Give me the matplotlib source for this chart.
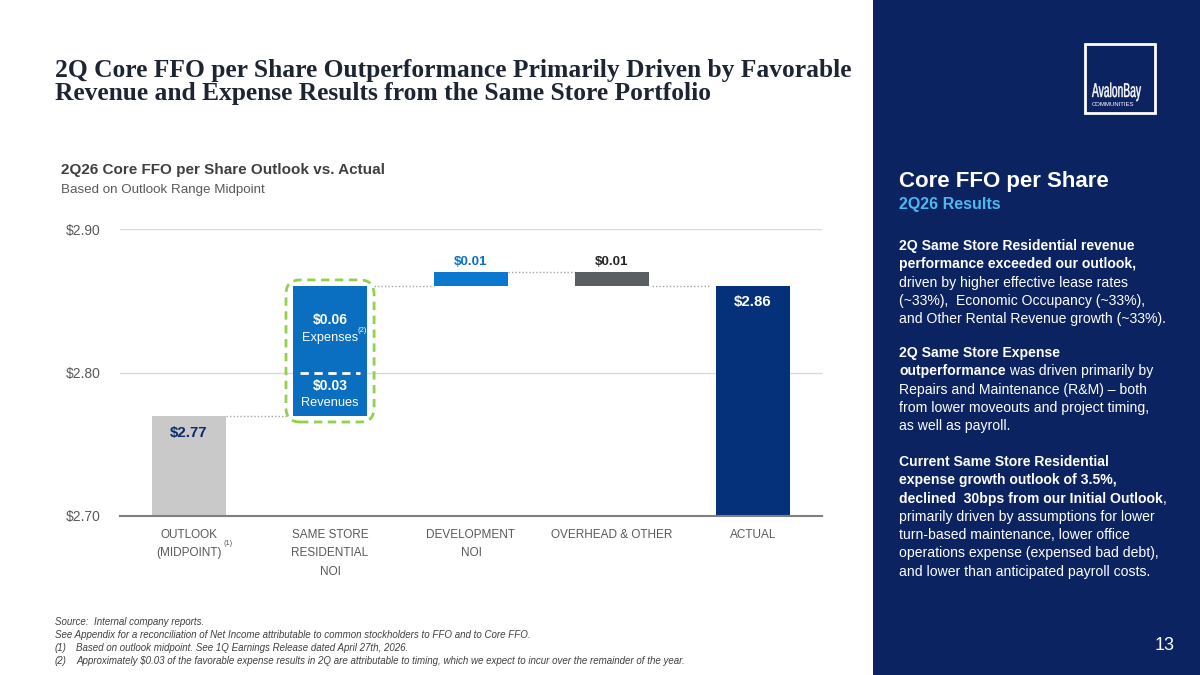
import matplotlib.pyplot as plt
import matplotlib.transforms as mtransforms
from matplotlib.patches import Rectangle, FancyBboxPatch, PathPatch
from matplotlib.textpath import TextPath
from matplotlib.font_manager import FontProperties

plt.rcParams['font.family'] = ['Liberation Sans', 'DejaVu Sans']
plt.rcParams['text.parse_math'] = False

W, H = 1200, 675

# chart data
categories = ["OUTLOOK\n(MIDPOINT)", "SAME STORE\nRESIDENTIAL\nNOI", "DEVELOPMENT\nNOI",
              "OVERHEAD & OTHER", "ACTUAL"]
outlook_value = 2.77
revenue_step = 0.03
expense_step = 0.06
development_step = 0.01
overhead_step = -0.01
actual_value = 2.86
y_ticks = [2.70, 2.80, 2.90]
y_tick_labels = ["$2.70", "$2.80", "$2.90"]

# text
title_lines = ["2Q Core FFO per Share Outperformance Primarily Driven by Favorable",
               "Revenue and Expense Results from the Same Store Portfolio"]
chart_title = "2Q26 Core FFO per Share Outlook vs. Actual"
chart_subtitle = "Based on Outlook Range Midpoint"
footnotes = ["Source:  Internal company reports.",
             "See Appendix for a reconciliation of Net Income attributable to common stockholders to FFO and to Core FFO."]
numbered_notes = [("(1)", "Based on outlook midpoint. See 1Q Earnings Release dated April 27th, 2026."),
                  ("(2)", "Approximately $0.03 of the favorable expense results in 2Q are attributable to timing, which we expect to incur over the remainder of the year.")]
panel_paragraphs = [
    [[("2Q Same Store Residential revenue", "bold")],
     [("performance exceeded our outlook,", "bold")],
     [("driven by higher effective lease rates", "normal")],
     [("(~33%),  Economic Occupancy (~33%),", "normal")],
     [("and Other Rental Revenue growth (~33%).", "normal")]],
    [[("2Q Same Store Expense", "bold")],
     [("outperformance", "bold"), (" was driven primarily by", "normal")],
     [("Repairs and Maintenance (R&M) \u2013 both", "normal")],
     [("from lower moveouts and project timing,", "normal")],
     [("as well as payroll.", "normal")]],
    [[("Current Same Store Residential", "bold")],
     [("expense growth outlook of 3.5%,", "bold")],
     [("declined  30bps from our Initial Outlook", "bold"), (",", "normal")],
     [("primarily driven by assumptions for lower", "normal")],
     [("turn-based maintenance, lower office", "normal")],
     [("operations expense (expensed bad debt),", "normal")],
     [("and lower than anticipated payroll costs.", "normal")]],
]

NAVY = '#0B2361'
GRAY_TXT = '#595959'

fig = plt.figure(figsize=(W / 100, H / 100), dpi=100)
fig.patch.set_facecolor('white')


def fx(x):
    return x / W


def fy(y):
    return 1 - y / H


# right panel
fig.patches.append(Rectangle((fx(873), 0), 1 - fx(873), 1, transform=fig.transFigure,
                             facecolor=NAVY, edgecolor='none', zorder=0))
fig.patches.append(Rectangle((fx(1085), fy(113)), fx(70), 69 / H, transform=fig.transFigure,
                             facecolor='none', edgecolor='white', lw=2, zorder=1))

# condensed logo word
logo = TextPath((0, 0), "AvalonBay", size=20, prop=FontProperties(family='Liberation Sans'))
ext = logo.get_extents()
sx = 49 / ext.width
logo_tr = mtransforms.Affine2D().translate(-ext.x0, 0).scale(sx, 1).translate(1092, H - 97)
fig.add_artist(PathPatch(logo, transform=logo_tr, facecolor='white', edgecolor='white',
                         lw=0.3, zorder=2))
fig.text(fx(1092), fy(104), "COMMUNITIES", color='white', fontsize=4.3, ha='left', va='center')

fig.text(fx(899), fy(181), "Core FFO per Share", color='white', fontsize=16, weight='bold',
         ha='left', va='center')
fig.text(fx(899), fy(205), "2Q26 Results", color='#4DB8F0', fontsize=11.5, weight='bold',
         ha='left', va='center')
fig.text(fx(1175), fy(645), "13", color='white', fontsize=13, ha='right', va='center')

renderer = fig.canvas.get_renderer()
para_starts = [245, 352, 461]
line_step = 18.3
for start, para in zip(para_starts, panel_paragraphs):
    for i, segments in enumerate(para):
        x = 899
        yb = start + i * line_step + 5
        for txt, weight in segments:
            t = fig.text(fx(x), fy(yb), txt, color='white', fontsize=10.1, weight=weight,
                         ha='left', va='baseline')
            x += t.get_window_extent(renderer).width

# slide title
for i, line in enumerate(title_lines):
    fig.text(fx(55), fy(77 + i * 23), line, color='#1D2533', fontsize=18.4, weight='bold',
             family=['Liberation Serif'], ha='left', va='baseline')

fig.text(fx(61), fy(174), chart_title, color='#404040', fontsize=11, weight='bold',
         ha='left', va='baseline')
fig.text(fx(61), fy(193), chart_subtitle, color=GRAY_TXT, fontsize=9.6, ha='left', va='baseline')

# footnotes
for i, note in enumerate(footnotes):
    fig.text(fx(55), fy(622 + i * 13), note, color='#404040', fontsize=7, style='italic',
             ha='left', va='center')
for i, (num, note) in enumerate(numbered_notes):
    fig.text(fx(55), fy(648 + i * 13), num, color='#404040', fontsize=7, style='italic',
             ha='left', va='center')
    fig.text(fx(76), fy(648 + i * 13), note, color='#404040', fontsize=7, style='italic',
             ha='left', va='center')

# waterfall chart
ax = fig.add_axes([fx(120), fy(516), (822 - 120) / W, (516 - 229) / H])
ax.set_xlim(-0.49, 4.49)
ax.set_ylim(y_ticks[0], y_ticks[-1])
for s in ['top', 'right', 'left']:
    ax.spines[s].set_visible(False)
ax.spines['bottom'].set_color('#7F7F7F')
ax.spines['bottom'].set_linewidth(1.5)
for yt in y_ticks[1:]:
    ax.axhline(yt, color='#D9D9D9', lw=1, zorder=0)

bw = 0.525
ss_mid = outlook_value + revenue_step
ss_top = ss_mid + expense_step
dev_top = ss_top + development_step
oh_bottom = dev_top + overhead_step

ax.bar(0, outlook_value - y_ticks[0], bottom=y_ticks[0], width=bw, color='#C9C9C9', zorder=2)
ax.bar(1, revenue_step, bottom=outlook_value, width=bw, color='#0B6FC1', zorder=2)
ax.bar(1, expense_step, bottom=ss_mid, width=bw, color='#0B6FC1', zorder=2)
ax.bar(2, development_step, bottom=ss_top, width=bw, color='#0A78CE', zorder=2)
ax.bar(3, -overhead_step, bottom=oh_bottom, width=bw, color='#5A5F64', zorder=2)
ax.bar(4, actual_value - y_ticks[0], bottom=y_ticks[0], width=bw, color='#05307A', zorder=2)

# dashed split between revenues and expenses
ax.plot([1 - bw / 2 + 0.05, 1 + bw / 2 - 0.05], [ss_mid, ss_mid], color='white', lw=2,
        ls=(0, (3, 2)), zorder=3)

# green dashed rounded frame around same store bar
fig.canvas.draw()
bbox = ax.get_window_extent()
aspect = ((y_ticks[-1] - y_ticks[0]) / bbox.height) / (4.98 / bbox.width)
padx, pady = 0.05, 0.0045
frame = FancyBboxPatch((1 - bw / 2 - padx, outlook_value - pady), bw + 2 * padx,
                       revenue_step + expense_step + 2 * pady,
                       boxstyle="round,pad=0,rounding_size=0.1", mutation_aspect=aspect,
                       facecolor='none', edgecolor='#92D050', lw=2, ls=(0, (3, 2)),
                       zorder=4, clip_on=False)
ax.add_patch(frame)

# connectors
conn = dict(color='#A6A6A6', lw=1, ls=(0, (1, 1.5)), zorder=1)
ax.plot([bw / 2, 1 - bw / 2 - padx], [outlook_value] * 2, **conn)
ax.plot([1 + bw / 2 + padx, 2 - bw / 2], [ss_top] * 2, **conn)
ax.plot([2 + bw / 2, 3 - bw / 2], [dev_top] * 2, **conn)
ax.plot([3 + bw / 2 + 0.02, 4 - bw / 2 - 0.05], [oh_bottom] * 2, **conn)

# value labels
ax.annotate("$2.77", (0, outlook_value), xytext=(0, -12.5), textcoords='offset points',
            ha='center', va='center', fontsize=10.8, weight='bold', color='#0B2A6A')
ax.annotate("$0.06", (1, ss_mid + expense_step / 2), xytext=(0, 7), textcoords='offset points',
            ha='center', va='center', fontsize=10, weight='bold', color='white')
ax.annotate("Expenses", (1, ss_mid + expense_step / 2), xytext=(0, -6), textcoords='offset points',
            ha='center', va='center', fontsize=9.2, color='white')
ax.annotate("(2)", (1, ss_mid + expense_step / 2), xytext=(23.5, -1), textcoords='offset points',
            ha='center', va='center', fontsize=5.5, color='white')
ax.annotate("$0.03", (1, outlook_value + revenue_step / 2), xytext=(0, 6), textcoords='offset points',
            ha='center', va='center', fontsize=10, weight='bold', color='white')
ax.annotate("Revenues", (1, outlook_value + revenue_step / 2), xytext=(0, -6.5),
            textcoords='offset points', ha='center', va='center', fontsize=9.2, color='white')
ax.annotate("$0.01", (2, dev_top), xytext=(0, 7), textcoords='offset points',
            ha='center', va='center', fontsize=9.6, weight='bold', color='#0A72C0')
ax.annotate("$0.01", (3, dev_top), xytext=(0, 7), textcoords='offset points',
            ha='center', va='center', fontsize=9.6, weight='bold', color='#262626')
ax.annotate("$2.86", (4, actual_value), xytext=(0, -11.5), textcoords='offset points',
            ha='center', va='center', fontsize=10.8, weight='bold', color='white')

ax.set_yticks(y_ticks, y_tick_labels)
ax.set_xticks(range(len(categories)), categories)
ax.tick_params(axis='y', length=0, pad=14, labelsize=10, labelcolor=GRAY_TXT)
ax.tick_params(axis='x', length=0, pad=9, labelsize=8.5, labelcolor=GRAY_TXT)
for lab in ax.get_xticklabels():
    lab.set_multialignment('center')
    lab.set_linespacing(1.75)
ax.annotate("(1)", (0, y_ticks[0]), xytext=(28, -20), textcoords='offset points',
            ha='center', va='center', fontsize=5.3, color=GRAY_TXT, annotation_clip=False)

fig.savefig('out.png', dpi=100)
